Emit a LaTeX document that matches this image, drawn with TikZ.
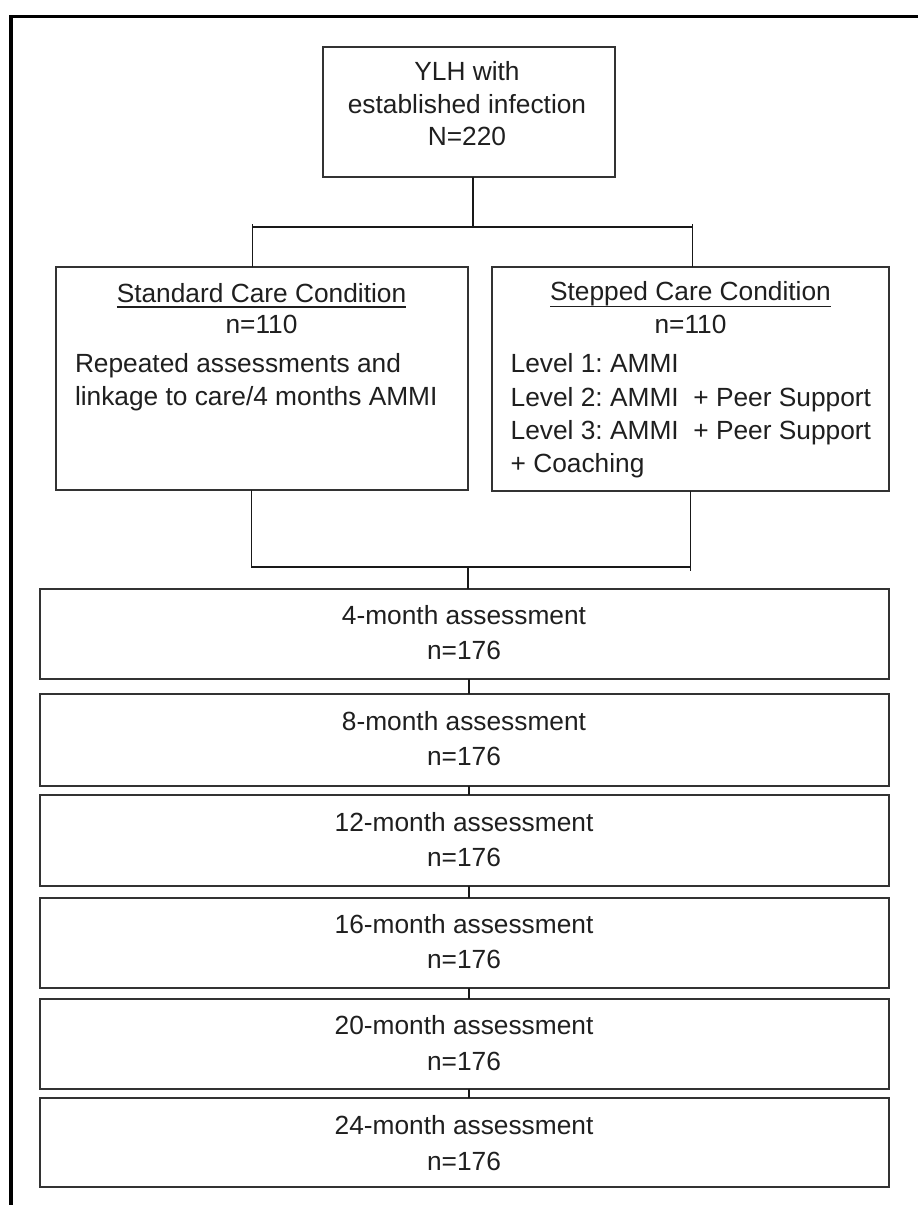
\documentclass[tikz,border=0pt]{standalone}
\usepackage{fontspec}
\setmainfont{Liberation Sans}
\frenchspacing
\begin{document}
\begin{tikzpicture}[x=1pt,y=-1pt,
  box/.style={draw=black!80, line width=1.8pt, inner sep=0pt, outer sep=0pt, rectangle},
  lbl/.style={inner sep=0pt, outer sep=0pt, anchor=base, font=\fontsize{26.3}{32}\selectfont, text=black!88},
  conn/.style={draw=black!90, line width=1.5pt},
  uline/.style={draw=black!88, line width=1.4pt},
  frameline/.style={draw=black, line width=3.3pt}
]
\useasboundingbox[fill=white] (0,0) rectangle (918,1205);
% outer frame (top and left edges visible)
\draw[frameline] (930,16.7) -- (11,16.7) -- (11,1215);

% top box
\node[box, minimum width=292pt, minimum height=129.4pt] (top) at (469,112) {};
\node[lbl] (t1) at (467,80.7) {YLH with};
\node[lbl] (t2) at (467,113) {established infection};
\node[lbl] (t3) at (467,145) {N=220};

% standard care box
\node[box, minimum width=412pt, minimum height=222.7pt] (std) at (262,378.65) {};
\node[lbl] (s1) at (261.5,302) {Standard Care Condition};
\draw[uline] ([yshift=-5pt]s1.base west) -- ([yshift=-5pt]s1.base east);
\node[lbl] (s2) at (261.5,333.3) {n=110};
\node[lbl, anchor=base west] (s3) at (75,372.7) {Repeated assessments and};
\node[lbl, anchor=base west] (s4) at (75,405.5) {linkage to care/4 months AMMI};

% stepped care box
\node[box, minimum width=397pt, minimum height=224pt] (sc) at (690.5,379) {};
\node[lbl] (c1) at (690.5,300.7) {Stepped Care Condition};
\draw[uline] ([yshift=-6pt]c1.base west) -- ([yshift=-6pt]c1.base east);
\node[lbl] (c2) at (690.5,333.3) {n=110};
\node[lbl, anchor=base west] (c3) at (510.7,372.7) {Level 1: AMMI};
\node[lbl, anchor=base west] (c4) at (510.7,406) {Level 2: AMMI\ \ + Peer Support};
\node[lbl, anchor=base west] (c5) at (510.7,439) {Level 3: AMMI\ \ + Peer Support};
\node[lbl, anchor=base west] (c6) at (510.7,472) {+ Coaching};

% assessment boxes
\node[box, minimum width=849pt, minimum height=89.7pt] (a4) at (464.5,634.15) {};
\node[lbl] (a4t) at (464,624.8) {4-month assessment};
\node[lbl] (a4n) at (464,659.5) {n=176};

\node[box, minimum width=849pt, minimum height=92pt] (a8) at (464.5,740) {};
\node[lbl] (a8t) at (464,730.5) {8-month assessment};
\node[lbl] (a8n) at (464,765.5) {n=176};

\node[box, minimum width=849pt, minimum height=91pt] (a12) at (464.5,840.5) {};
\node[lbl] (a12t) at (464,831) {12-month assessment};
\node[lbl] (a12n) at (464,866) {n=176};

\node[box, minimum width=849pt, minimum height=90pt] (a16) at (464.5,942.7) {};
\node[lbl] (a16t) at (464,933.5) {16-month assessment};
\node[lbl] (a16n) at (464,968.5) {n=176};

\node[box, minimum width=849pt, minimum height=90pt] (a20) at (464.5,1043.7) {};
\node[lbl] (a20t) at (464,1034.5) {20-month assessment};
\node[lbl] (a20n) at (464,1070.5) {n=176};

\node[box, minimum width=849pt, minimum height=89pt] (a24) at (464.5,1142.5) {};
\node[lbl] (a24t) at (464,1134) {24-month assessment};
\node[lbl] (a24n) at (464,1170) {n=176};

% connectors: split
\coordinate (j1) at (473,227);
\coordinate (jl) at (252.7,227);
\coordinate (jr) at (692.5,227);
\draw[conn] (j1 |- top.south) -- (j1);
\draw[conn] (jl |- std.north) -- ([yshift=3pt]jl);
\draw[conn] (jr |- sc.north) -- ([yshift=3pt]jr);
\draw[conn] (jl) -- (jr);

% connectors: merge
\coordinate (kl) at (251.5,567);
\coordinate (kr) at (690.5,567);
\coordinate (km) at (468,567);
\draw[conn] (kl |- std.south) -- (kl) -- (kr);
\draw[conn] (kr |- sc.south) -- ([yshift=-4pt]kr);
\draw[conn] (km) -- (km |- a4.north);

% connectors between assessment boxes
\coordinate (col) at (469,0);
\draw[conn] (col |- a4.south) -- (col |- a8.north);
\draw[conn] (col |- a8.south) -- (col |- a12.north);
\draw[conn] (col |- a12.south) -- (col |- a16.north);
\draw[conn] (col |- a16.south) -- (col |- a20.north);
\draw[conn] (col |- a20.south) -- (col |- a24.north);
\end{tikzpicture}
\end{document}
